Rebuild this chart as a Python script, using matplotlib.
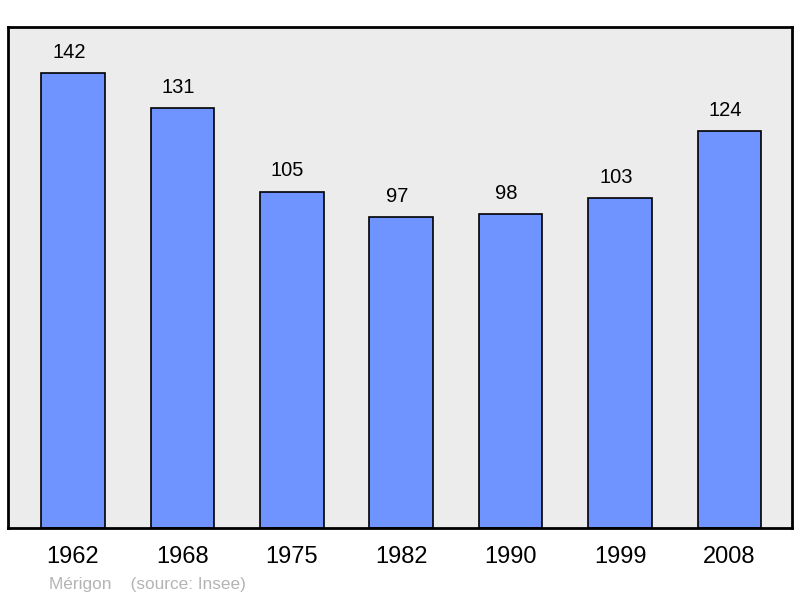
import matplotlib
matplotlib.use('Agg')
import matplotlib.pyplot as plt

# population data
years = ['1962', '1968', '1975', '1982', '1990', '1999', '2008']
pop = [142, 131, 105, 97, 98, 103, 124]

plt.rcParams['font.family'] = ['Liberation Sans', 'DejaVu Sans']

fig = plt.figure(figsize=(8, 5.98), dpi=100)
ax = fig.add_axes([0.01, 0.117, 0.98, 0.838])
ax.set_facecolor('#ececec')

x = list(range(len(years)))
bars = ax.bar(x, pop, width=0.58, color='#7094ff', edgecolor='black', linewidth=1.2)

for xi, v in zip(x, pop):
    ax.annotate(str(v), (xi, v), xytext=(-3, 8), textcoords='offset points',
                ha='center', va='bottom', fontsize=14.5)

ax.set_xlim(-0.594, 6.572)
ax.set_ylim(0, 156.4)
ax.set_xticks(x)
ax.set_xticklabels(years, fontsize=17)
ax.tick_params(axis='x', length=0, pad=13)
ax.set_yticks([])
for sp in ax.spines.values():
    sp.set_linewidth(2)

fig.text(49/800, 1 - 584/598, 'Mérigon    (source: Insee)', fontsize=12.4,
         color='#b4b4b4', va='center', ha='left')

fig.savefig('out.png', dpi=100)
